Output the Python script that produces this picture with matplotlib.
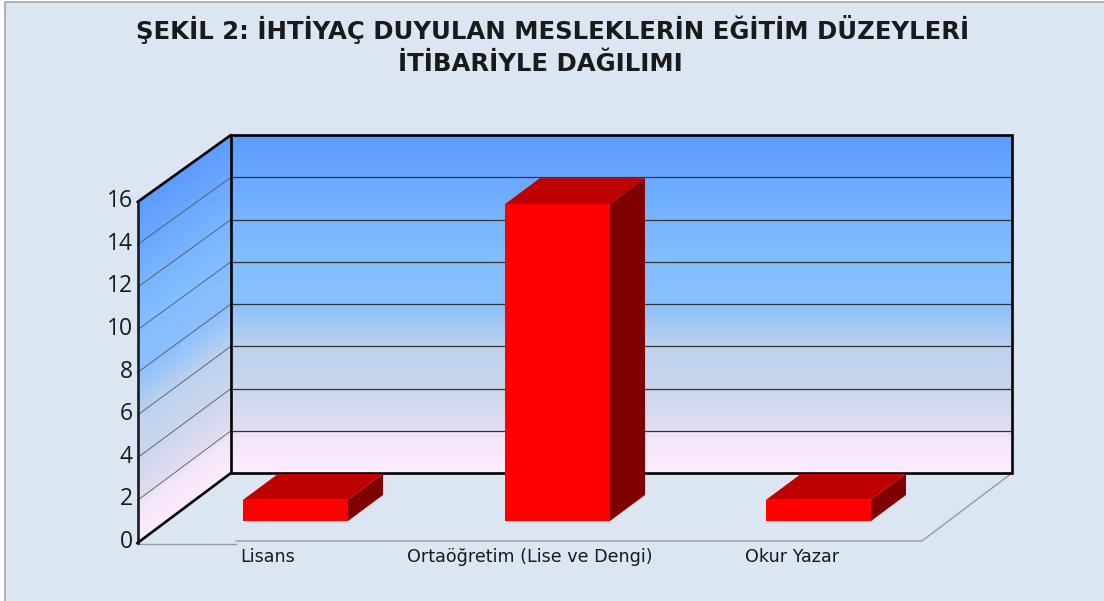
import matplotlib
matplotlib.use("Agg")
import matplotlib.pyplot as plt
import numpy as np
from matplotlib.colors import LinearSegmentedColormap
from matplotlib.patches import Polygon, Rectangle

title_lines = [
    "ŞEKİL 2: İHTİYAÇ DUYULAN MESLEKLERİN EĞİTİM DÜZEYLERİ",
    "İTİBARİYLE DAĞILIMI",
]
categories = ["Lisans", "Ortaöğretim (Lise ve Dengi)", "Okur Yazar"]
values = [1, 15, 1]
y_ticks = [0, 2, 4, 6, 8, 10, 12, 14, 16]

# chart box in picture pixels
W, H = 1104, 601
BACK_L, BACK_R = 231, 1012
BACK_BOTTOM, BACK_TOP = 473, 135
SIDE_X, SIDE_BOTTOM, SIDE_TOP = 137.5, 543, 202
UNIT = (BACK_BOTTOM - BACK_TOP) / 16
SIDE_UNIT = (SIDE_BOTTOM - SIDE_TOP) / 16

BAR_LEFT = [243, 505, 766]
BAR_W = 105
BAR_BASE = 521
BAR_DX, BAR_DY = 35, -26

BG = "#DCE6F2"
wall_cmap = LinearSegmentedColormap.from_list(
    "wall",
    [
        (0.0, "#5B9BFF"),
        (0.25, "#78B4FF"),
        (0.36, "#82BDFF"),
        (0.5, "#8ABFFD"),
        (0.63, "#BDD2EC"),
        (0.75, "#C9D6EC"),
        (0.87, "#E2DCF0"),
        (0.9, "#F2E6F6"),
        (1.0, "#FDEBFB"),
    ],
)


def back_y(v):
    return BACK_BOTTOM - v * UNIT


def side_y(v):
    return SIDE_BOTTOM - v * SIDE_UNIT


def draw_walls(ax):
    t = np.linspace(0, 1, 300)
    C = (t[:-1] + t[1:]) / 2
    # back wall
    X = np.array([[BACK_L, BACK_R]] * len(t))
    Y = np.column_stack([BACK_TOP + t * (BACK_BOTTOM - BACK_TOP)] * 2)
    ax.pcolormesh(X, Y, C[:, None], cmap=wall_cmap, shading="flat", vmin=0, vmax=1, zorder=1)
    # side wall, skewed with the depth
    X = np.array([[SIDE_X, BACK_L]] * len(t))
    Y = np.column_stack(
        [
            SIDE_TOP + t * (SIDE_BOTTOM - SIDE_TOP),
            BACK_TOP + t * (BACK_BOTTOM - BACK_TOP),
        ]
    )
    ax.pcolormesh(X, Y, C[:, None], cmap=wall_cmap, shading="flat", vmin=0, vmax=1, zorder=1)

    for v in y_ticks[1:-1]:
        ax.plot([BACK_L, BACK_R], [back_y(v)] * 2, color="#333333", lw=0.9, zorder=2)
        ax.plot([SIDE_X, BACK_L], [side_y(v), back_y(v)], color="#555555", lw=0.6, zorder=2)

    ax.add_patch(
        Rectangle(
            (BACK_L, BACK_TOP),
            BACK_R - BACK_L,
            BACK_BOTTOM - BACK_TOP,
            fill=False,
            ec="black",
            lw=1.9,
            zorder=3,
        )
    )
    ax.plot(
        [SIDE_X, BACK_L],
        [SIDE_TOP, BACK_TOP],
        color="black",
        lw=1.9,
        zorder=3,
        solid_capstyle="round",
    )
    ax.plot([SIDE_X, BACK_L], [SIDE_BOTTOM, BACK_BOTTOM], color="black", lw=1.9, zorder=3)
    ax.plot([SIDE_X, SIDE_X], [SIDE_TOP, SIDE_BOTTOM], color="#1a1a1a", lw=1.9, zorder=3)


def draw_floor(ax):
    ax.plot([SIDE_X, 236], [544, 544], color="#9a9a9a", lw=1.0, zorder=2)
    ax.plot([236, 922, BACK_R], [541, 541, BACK_BOTTOM], color="#9a9a9a", lw=1.0, zorder=2)


def draw_bar(ax, left, v):
    right = left + BAR_W
    top = BAR_BASE - v * UNIT
    ax.add_patch(
        Polygon(
            [
                (left, top),
                (left + BAR_DX, top + BAR_DY),
                (right + BAR_DX, top + BAR_DY),
                (right, top),
            ],
            fc="#BF0000",
            ec="none",
            zorder=5,
        )
    )
    ax.add_patch(
        Polygon(
            [
                (right, top),
                (right + BAR_DX, top + BAR_DY),
                (right + BAR_DX, BAR_BASE + BAR_DY),
                (right, BAR_BASE),
            ],
            fc="#800000",
            ec="none",
            zorder=5,
        )
    )
    ax.add_patch(Rectangle((left, top), BAR_W, v * UNIT, fc="#FF0000", ec="none", zorder=6))


def main():
    plt.rcParams["font.family"] = ["Open Sans", "DejaVu Sans"]

    fig = plt.figure(figsize=(W / 100, H / 100), dpi=100, facecolor="white")
    ax = fig.add_axes([0, 0, 1, 1])
    ax.set_xlim(0, W)
    ax.set_ylim(H, 0)
    ax.axis("off")

    # chart area with its thin gray frame (cut at the right and bottom)
    ax.add_patch(Rectangle((5, 2), W, H, fc=BG, ec="#a6a6a6", lw=1.2, zorder=0))

    draw_floor(ax)
    draw_walls(ax)
    for left, v in zip(BAR_LEFT, values):
        draw_bar(ax, left, v)

    for v in y_ticks:
        ax.text(133, side_y(v) - 1, str(v), ha="right", va="center", fontsize=16.5, color="#1a1a1a")

    # DejaVu is wide enough to fill the same run as the spaced-out original text
    label_x = [268, 530, 792]
    for x, name in zip(label_x, categories):
        ax.text(x, 557, name, ha="center", va="center", fontsize=12.6, color="#1a1a1a", family="DejaVu Sans")

    ax.text(553, 30, title_lines[0], ha="center", va="center", fontsize=17.6, fontweight="bold",
            color="#1a1a1a", family="DejaVu Sans")
    ax.text(540, 64, title_lines[1], ha="center", va="center", fontsize=17.6, fontweight="bold",
            color="#1a1a1a", family="DejaVu Sans")

    fig.savefig("out.png", dpi=100, facecolor="white")


if __name__ == "__main__":
    main()
